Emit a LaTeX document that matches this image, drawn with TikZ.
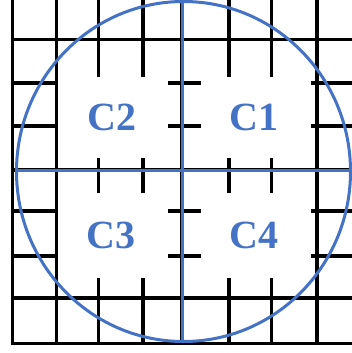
\documentclass[tikz,border=0pt]{standalone}
\usepackage{fontspec}
\setmainfont{Liberation Serif}
\definecolor{cblue}{RGB}{68,114,196}
\begin{document}
\begin{tikzpicture}[x=1pt,y=-1pt,
  gridline/.style={black, line width=3.4pt},
  blueline/.style={cblue, line width=3pt},
  lab/.style={text=cblue, inner sep=0pt, font=\fontsize{40}{40}\selectfont\bfseries}]
\path[use as bounding box, clip] (0,0) rectangle (352,353);
% full grid lines
\draw[gridline] (12.7,-5) -- (12.7,343.7) -- (360,343.7);
\foreach \x in {56.7,182,317} \draw[gridline] (\x,-5) -- (\x,343.7);
\foreach \y in {39.3,170,298} \draw[gridline] (12.7,\y) -- (360,\y);
% interrupted vertical lines
\foreach \x in {98.3,143,229,271.3} {
  \draw[gridline] (\x,-5) -- (\x,77);
  \draw[gridline] (\x,278) -- (\x,343.7);
  \draw[gridline] (\x,158) -- (\x,193);
}
% interrupted horizontal lines
\foreach \y in {83,126,211,256} {
  \draw[gridline] (12.7,\y) -- (56.7,\y);
  \draw[gridline] (311,\y) -- (360,\y);
  \draw[gridline] (168,\y) -- (201,\y);
}
% circle and diameters
\draw[blueline] (183.5,171.5) ellipse [x radius=167pt, y radius=170pt];
\draw[blueline] (18,170) -- (351,170);
\draw[blueline] (182,2) -- (182,342);
% labels
\node[lab] (c2) at (112,117) {C2};
\node[lab] (c1) at (254,117) {C1};
\node[lab] (c3) at (111,235) {C3};
\node[lab] (c4) at (254,235) {C4};
\end{tikzpicture}
\end{document}
